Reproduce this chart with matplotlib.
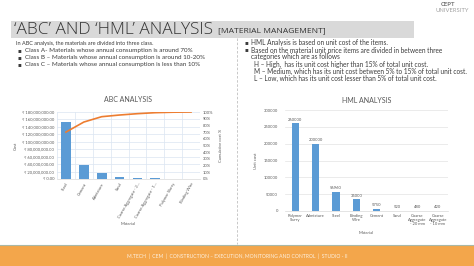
import matplotlib
matplotlib.use("Agg")
import matplotlib.pyplot as plt
from matplotlib.patches import Rectangle
from matplotlib.lines import Line2D
from matplotlib.ticker import FuncFormatter, MultipleLocator, FixedLocator

W, H = 474, 266
plt.rcParams['font.family'] = ['Lato', 'DejaVu Sans']

# ABC data
abc_materials = ["Steel", "Cement", "Admixture", "Sand", "Coarse Aggregate - 2...",
                 "Coarse Aggregate - 1...", "Polymer Slurry", "Binding Wire"]
abc_cost = [154e6, 37.5e6, 17e6, 6e6, 4e6, 3e6, 1e6, 0.3e6]
abc_cum_pct = [70, 85, 93, 95.5, 97.5, 99, 99.7, 100]

# HML data
hml_materials = ["Polymer\nSlurry", "Admixture", "Steel", "Binding\nWire", "Cement", "Sand",
                 "Coarse\nAggregate\n- 20 mm", "Coarse\nAggregate\n- 10 mm"]
hml_cost = [260000, 200000, 56960, 35000, 5750, 520, 480, 420]

BLUE = "#5b9bd5"
ORANGE = "#ed7d31"
TXT = "#595959"
BODY = "#3c3c3c"

fig = plt.figure(figsize=(W / 100, H / 100), dpi=100)
fig.patch.set_facecolor("white")

def frect(x0, y0, x1, y1):
    return [x0 / W, 1 - y1 / H, (x1 - x0) / W, (y1 - y0) / H]

def ftext(x, y, s, **kw):
    fig.text(x / W, 1 - y / H, s, **kw)

# Title band
fig.patches.append(Rectangle((11 / W, 1 - 38 / H), (414 - 11) / W, 17 / H,
                             transform=fig.transFigure, facecolor="#d9d9d9", edgecolor="none"))
ftext(14, 30, "‘ABC’ AND ‘HML’ ANALYSIS", fontsize=12.4, color="#333333", va="center",
      family=["Open Sans", "DejaVu Sans"], weight="light")
ftext(218, 31, "[MATERIAL MANAGEMENT]", fontsize=6.1, color="#333333", va="center",
      family=["Open Sans", "DejaVu Sans"])

# logo text
ftext(441, 4, "CEPT", fontsize=4.2, color="#707070", va="center", weight="bold")
ftext(436, 10, "UNIVERSITY", fontsize=4.2, color="#a0a0a0", va="center")

# left text
ftext(16, 43, "In ABC analysis, the materials are divided into three class.", fontsize=3.95,
      color=BODY, va="center")
left_bul = ["Class A- Materials whose annual consumption is around 70%",
            "Class B – Materials whose annual consumption is around 10-20%",
            "Class C – Materials whose annual consumption is less than 10%"]
for i, s in enumerate(left_bul):
    y = 50.2 + i * 7
    ftext(17, y, "▪", fontsize=4.1, color=BODY, va="center", family=["DejaVu Sans"])
    ftext(25, y, s, fontsize=4.5, color=BODY, va="center")

# right text
rfs = 4.7
ftext(244, 43, "▪", fontsize=4.1, color=BODY, va="center", family=["DejaVu Sans"])
ftext(251, 43, "HML Analysis is based on unit cost of the items.", fontsize=rfs, color=BODY, va="center")
ftext(244, 50, "▪", fontsize=4.1, color=BODY, va="center", family=["DejaVu Sans"])
ftext(251, 50, "Based on the material unit price items are divided in between three", fontsize=rfs, color=BODY, va="center")
ftext(251, 57, "categories which are as follows", fontsize=rfs, color=BODY, va="center")
ftext(254, 64, "H – High,  has its unit cost higher than 15% of total unit cost.", fontsize=rfs, color=BODY, va="center")
ftext(254, 71, "M – Medium, which has its unit cost between 5% to 15% of total unit cost.", fontsize=rfs, color=BODY, va="center")
ftext(254, 78, "L – Low, which has its unit cost lesser than 5% of total unit cost.", fontsize=rfs, color=BODY, va="center")

# dashed divider
fig.lines.append(Line2D([237 / W, 237 / W], [1 - 38 / H, 1 - 244 / H], transform=fig.transFigure,
                        color="#bfbfbf", lw=0.6, ls=(0, (3, 2))))

# footer
fig.patches.append(Rectangle((0, 0), 1, 21 / H, transform=fig.transFigure,
                             facecolor="#f3a64b", edgecolor="none"))
fig.lines.append(Line2D([0, 1], [21 / H, 21 / H], transform=fig.transFigure, color="#a9b8a6", lw=0.8))
ftext(237, 256, "M.TECH  |  CEM  |  CONSTRUCTION – EXECUTION, MONITORING AND CONTROL  |  STUDIO - II",
      fontsize=3.6, color="#fdf1e2", ha="center", va="center")

# ABC chart
ax = fig.add_axes(frect(57, 112, 200, 179))
x = list(range(len(abc_materials)))
ax.bar(x, abc_cost, width=0.55, color=BLUE, zorder=3)
ax.set_xlim(-0.5, len(x) - 0.5)
ax.set_ylim(0, 180e6)
ax.yaxis.set_major_locator(MultipleLocator(20e6))
ax.yaxis.set_major_formatter(FuncFormatter(lambda v, p: "₹ {:,.2f}".format(v)))
ax.set_xticks(x)
ax.set_xticklabels(abc_materials, rotation=60, ha="right", rotation_mode="anchor", fontsize=3, color=TXT)
ax.xaxis.set_minor_locator(FixedLocator([i + 0.5 for i in range(-1, len(x))]))
ax.grid(True, which="major", axis="y", color="#dbe5f1", lw=0.5, zorder=0)
ax.grid(True, which="minor", axis="x", color="#dbe5f1", lw=0.5, zorder=0)
ax.tick_params(axis="y", labelsize=3, colors=TXT, length=0, pad=2)
ax.tick_params(axis="x", which="both", length=0, pad=2)
for sp in ax.spines.values():
    sp.set_visible(False)
ax.spines["bottom"].set_visible(True)
ax.spines["bottom"].set_color("#d9d9d9")
ax.spines["bottom"].set_linewidth(0.5)
ax.set_title("ABC ANALYSIS", fontsize=5, color=TXT, pad=7)
ax.set_ylabel("Cost", fontsize=3, color=TXT, labelpad=3)
ax.set_xlabel("Material", fontsize=3, color=TXT, labelpad=2)
ax2 = ax.twinx()
ax2.plot(x, abc_cum_pct, color=ORANGE, lw=1.2, zorder=4)
ax2.set_ylim(0, 100)
ax2.yaxis.set_major_locator(MultipleLocator(10))
ax2.yaxis.set_major_formatter(FuncFormatter(lambda v, p: "{:d}%".format(int(round(v)))))
ax2.tick_params(axis="y", labelsize=3, colors=TXT, length=0, pad=2)
for sp in ax2.spines.values():
    sp.set_visible(False)
ax2.set_ylabel("Cumulative cost %", fontsize=3, color=TXT, labelpad=4)

# HML chart
bx = fig.add_axes(frect(285, 110, 448, 211))
xh = list(range(len(hml_materials)))
bx.bar(xh, hml_cost, width=0.36, color=BLUE, zorder=3)
for xi, v in zip(xh, hml_cost):
    bx.text(xi, v + 5000, str(v), ha="center", va="bottom", fontsize=3, color=TXT)
bx.set_xlim(-0.5, len(xh) - 0.5)
bx.set_ylim(0, 300000)
bx.yaxis.set_major_locator(MultipleLocator(50000))
bx.set_xticks(xh)
bx.set_xticklabels(hml_materials, fontsize=3, color=TXT, linespacing=1.1)
bx.tick_params(axis="y", labelsize=3, colors=TXT, length=0, pad=5)
bx.tick_params(axis="x", length=0, pad=2)
bx.grid(True, axis="y", color="#e3e3e3", lw=0.5, zorder=0)
for sp in bx.spines.values():
    sp.set_visible(False)
bx.spines["bottom"].set_visible(True)
bx.spines["bottom"].set_color("#d9d9d9")
bx.spines["bottom"].set_linewidth(0.5)
bx.set_title("HML ANALYSIS", fontsize=5, color=TXT, pad=5)
bx.set_ylabel("Unit cost", fontsize=3, color=TXT, labelpad=4)
bx.set_xlabel("Material", fontsize=3, color=TXT, labelpad=3)

fig.savefig("out.png", dpi=100)
